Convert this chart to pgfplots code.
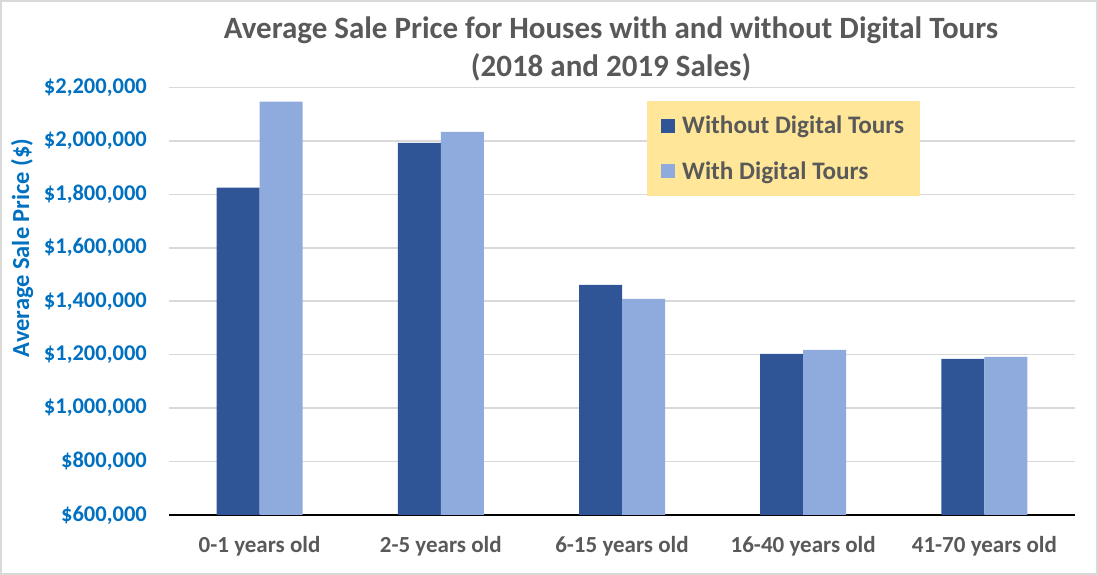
\documentclass[border=0pt]{standalone}
\usepackage{pgfplots}
\pgfplotsset{compat=1.18}
\usepackage{fontspec}
\setmainfont{Carlito}

\definecolor{darkbar}{HTML}{2F5597}
\definecolor{lightbar}{HTML}{8FAADC}
\definecolor{titlegray}{HTML}{595959}
\definecolor{tickblue}{HTML}{0070C0}
\definecolor{legfill}{HTML}{FFE699}
\definecolor{gridgray}{HTML}{D9D9D9}

\begin{document}
\begin{tikzpicture}
\begin{axis}[
    scale only axis,
    width=906pt, height=427.5pt,
    ybar=0pt, bar width=43pt,
    xmin=-0.5, xmax=4.5,
    ymin=600000, ymax=2200000,
    xtick=data,
    xticklabels={0-1 years old, 2-5 years old, 6-15 years old, 16-40 years old, 41-70 years old},
    ytick={600000,800000,...,2200000},
    scaled y ticks=false,
    /pgf/number format/assume math mode=true,
    /pgf/number format/.cd, fixed, 1000 sep={,}, /pgfplots/.cd,
    yticklabel={\$\pgfmathprintnumber{\tick}},
    major tick length=0pt,
    axis x line*=bottom,
    axis y line*=left,
    y axis line style={draw=none},
    x axis line style={black, line width=2pt},
    ymajorgrids,
    grid style={gridgray, line width=1.5pt},
    yticklabel style={font=\fontsize{22.5}{27}\selectfont\bfseries, color=tickblue, inner sep=0pt, anchor=east, xshift=-22pt},
    xticklabel style={font=\fontsize{23}{27}\selectfont\bfseries, color=titlegray, anchor=center, yshift=-31pt},
    ylabel={Average Sale Price (\$)},
    ylabel style={font=\fontsize{24.5}{29}\selectfont\bfseries, color=tickblue, at={(axis description cs:-0.162,0.625)}, anchor=center, rotate=0},
    legend style={draw=none, fill=legfill, at={(axis description cs:0.5276,0.9684)}, anchor=north west,
        font=\fontsize{25.2}{30}\selectfont\bfseries, text=titlegray, inner xsep=14pt, inner ysep=13pt, row sep=22pt,
        /tikz/every odd column/.style={column sep=5pt}},
    legend cell align=left,
    legend image code/.code={\fill[#1] (0pt,-7pt) rectangle (14pt,7pt);},
]
\addplot[fill=darkbar, draw=none] coordinates {
    (0,1825000) (1,1993000) (2,1461000) (3,1203000) (4,1184000)
};
\addlegendentry{Without Digital Tours}
\addplot[fill=lightbar, draw=none] coordinates {
    (0,2147000) (1,2034000) (2,1409000) (3,1218000) (4,1192000)
};
\addlegendentry{With Digital Tours}
\end{axis}
\node[align=center, font=\fontsize{31}{38}\selectfont\bfseries, text=titlegray] at (442pt,466pt)
    {Average Sale Price for Houses with and without Digital Tours\\(2018 and 2019 Sales)};
\draw[gridgray, line width=2pt] (-168pt,-59pt) rectangle (928pt,514pt);
\pgfresetboundingbox
\path (-169pt,-60pt) rectangle (929pt,515pt);
\end{tikzpicture}
\end{document}
